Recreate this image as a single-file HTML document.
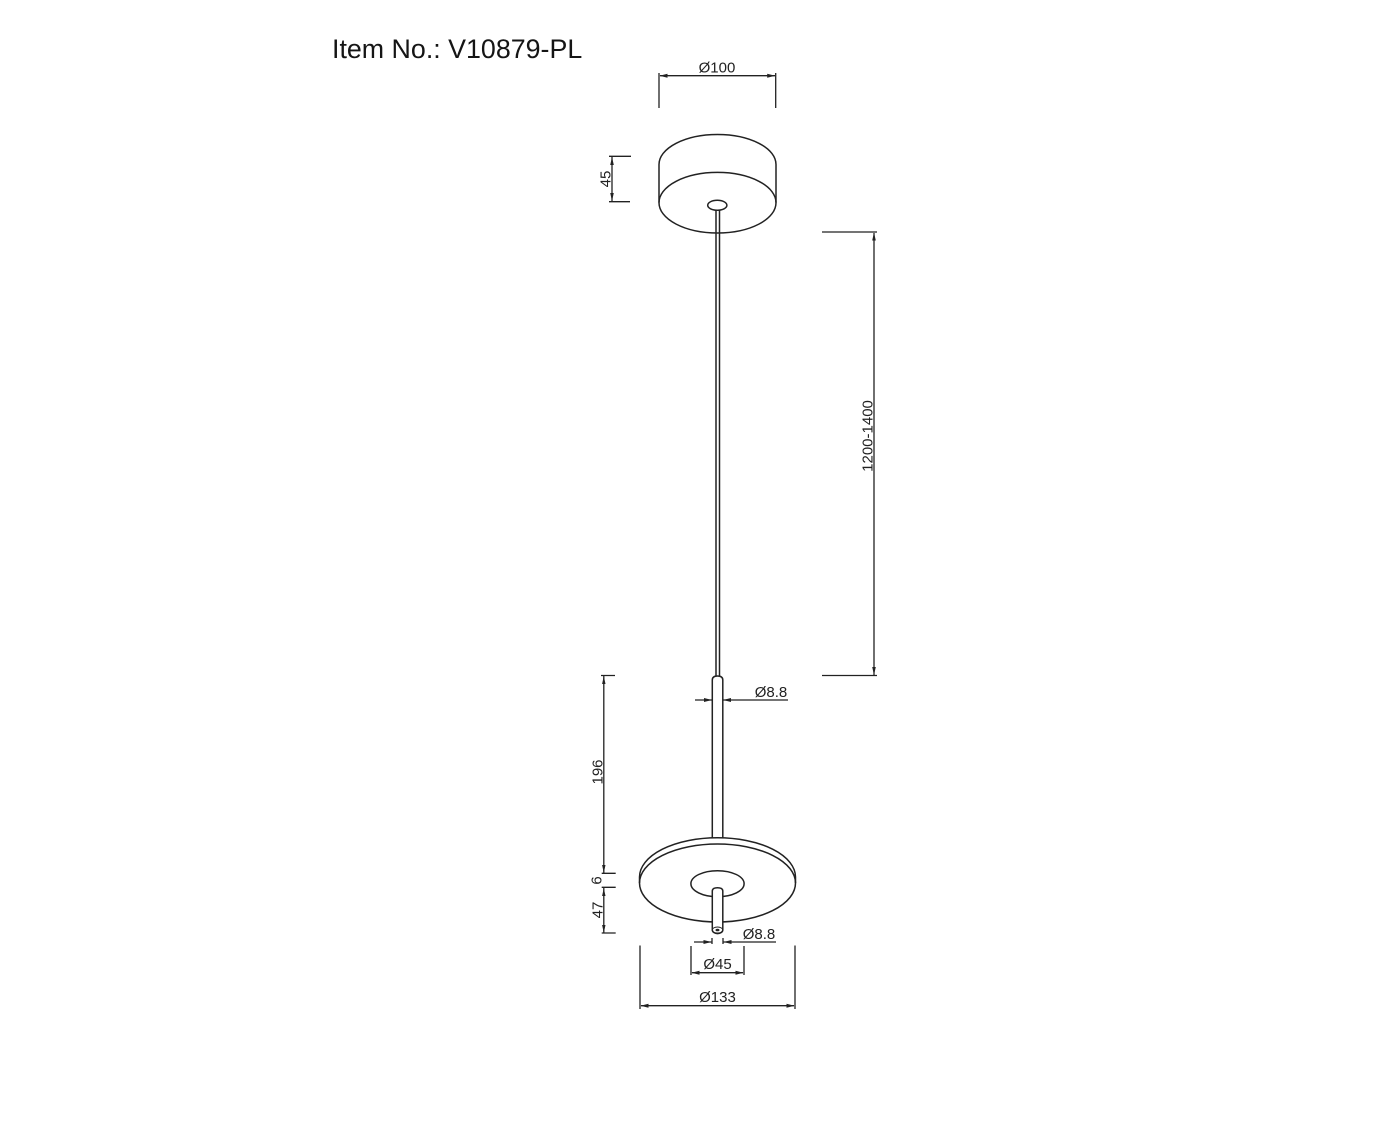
<!DOCTYPE html>
<html>
<head>
<meta charset="utf-8">
<style>
html,body{margin:0;padding:0;background:#fff;width:1384px;height:1132px;overflow:hidden}
svg{display:block}
text{font-family:"Liberation Sans",sans-serif;fill:#222;font-size:15px}
.a{fill:#222;stroke:none}
.l{stroke:#222;stroke-width:1.3;fill:none}
.o{stroke:#222;stroke-width:1.5;fill:none}
.w{stroke:#222;stroke-width:1.5;fill:#fff}
</style>
</head>
<body>
<svg width="1384" height="1132" viewBox="0 0 1384 1132" xmlns="http://www.w3.org/2000/svg">
<text x="332" y="58" style="font-size:26.8px;fill:#151515">Item No.: V10879-PL</text>

<!-- canopy -->
<path class="o" d="M659 202.5V164.5A58.5 30 0 0 1 776 164.5V202.5"/>
<ellipse class="o" cx="717.5" cy="202.7" rx="58.5" ry="30.3"/>
<ellipse class="w" cx="717.3" cy="205.3" rx="9.6" ry="5"/>
<!-- rod -->
<path class="o" d="M716 210.5V677M719.5 210.5V677"/>

<!-- tube -->
<path class="w" d="M712.3 838.5V680Q712.3 676 717.5 676Q722.8 676 722.8 680V838.5"/>

<!-- disc -->
<path class="o" d="M639.5 877A78 39.3 0 0 1 795.5 877"/>
<ellipse class="o" cx="717.5" cy="883" rx="78" ry="39"/>
<path class="o" d="M639.5 877V883M795.5 877V883"/>
<ellipse class="o" cx="717.5" cy="883.7" rx="26.6" ry="13"/>
<path class="w" d="M712.3 930V891Q712.3 887.7 717.5 887.7Q722.8 887.7 722.8 891V930A5.2 3.6 0 0 1 712.3 930Z"/>
<ellipse class="o" cx="717.5" cy="930" rx="5.2" ry="3" style="stroke-width:1"/>
<ellipse cx="717.5" cy="930" rx="2" ry="1.3" class="a"/>

<!-- dim 100 -->
<path class="l" d="M659 73V108M775.7 73V108M660 75.7H775"/>
<path class="a" d="M659.5 75.7l8-2v4zM775.2 75.7l-8-2v4z"/>
<text x="717" y="72.5" text-anchor="middle">Ø100</text>

<!-- dim 45 -->
<path class="l" d="M609 156.3H631M609 201.7H630M612 157V201"/>
<path class="a" d="M612 157l-1.8 8h3.6zM612 201l-1.8-8h3.6z"/>
<text transform="translate(610.5,179) rotate(-90)" text-anchor="middle">45</text>

<!-- dim 1200-1400 -->
<path class="l" d="M822 232H877M822 675.5H877M874 233V675"/>
<path class="a" d="M874 232.5l-1.8 8h3.6zM874 675l-1.8-8h3.6z"/>
<text transform="translate(872.5,436) rotate(-90)" text-anchor="middle">1200-1400</text>

<!-- dim 8.8 upper -->
<path class="l" d="M695 700H712M723 700H788"/>
<path class="a" d="M712 700l-8-2v4zM723 700l8-2v4z"/>
<text x="771" y="697" text-anchor="middle">Ø8.8</text>

<!-- dim 196/6/47 -->
<path class="l" d="M601 675.5H615M601.7 873.3H615.7M601.7 887.3H615.7M601.7 933H615.7M603.8 676V873M603.8 888V933"/>
<path class="a" d="M603.8 676l-1.7 8h3.4zM603.8 873l-1.7-8h3.4zM603.8 888l-1.7 8h3.4zM603.8 933l-1.7-8h3.4z"/>
<text transform="translate(602.5,772) rotate(-90)" text-anchor="middle">196</text>
<text transform="translate(601.5,880.5) rotate(-90)" text-anchor="middle">6</text>
<text transform="translate(602.5,910) rotate(-90)" text-anchor="middle">47</text>

<!-- dim 8.8 lower -->
<path class="l" d="M694 942H711.5M723.5 942H776M712 938V944M723 938V944"/>
<path class="a" d="M711.5 942l-8-2v4zM723.5 942l8-2v4z"/>
<text x="759" y="939" text-anchor="middle">Ø8.8</text>

<!-- dim 45 dia -->
<path class="l" d="M691 946V975M744 946V975M692 972.7H743"/>
<path class="a" d="M691.5 972.7l8-2v4zM743.5 972.7l-8-2v4z"/>
<text x="717.5" y="969" text-anchor="middle">Ø45</text>

<!-- dim 133 -->
<path class="l" d="M640 945.5V1009M795 945.5V1009M641 1005.7H794"/>
<path class="a" d="M640.5 1005.7l8-2v4zM794.5 1005.7l-8-2v4z"/>
<text x="717.5" y="1002" text-anchor="middle">Ø133</text>
</svg>
</body>
</html>
